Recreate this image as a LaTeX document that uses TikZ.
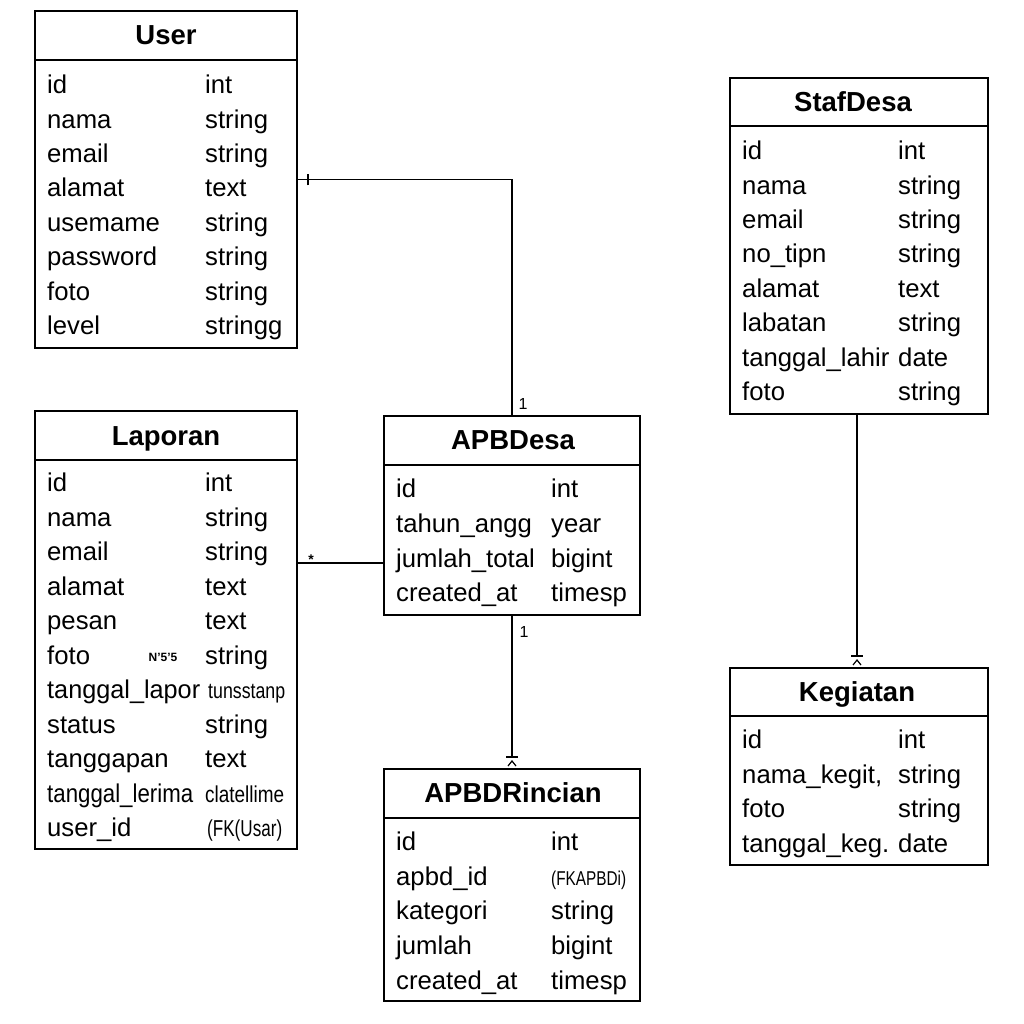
\documentclass[tikz,border=0pt]{standalone}
\usepackage{fontspec}
\setmainfont{Liberation Sans}
\usepackage{graphicx}
\begin{document}
\begin{tikzpicture}[x=1pt,y=-1pt,
  ent/.style={draw, line width=1.8pt, rectangle, inner sep=0pt, outer sep=0pt, anchor=north west},
  sep/.style={line width=1.5pt},
  ttl/.style={anchor=mid, inner sep=0pt, font=\fontsize{27.5}{32}\selectfont\bfseries},
  fld/.style={anchor=mid west, inner sep=0pt, font=\fontsize{25.7}{30}\selectfont},
  conn/.style={line width=1.8pt},
  lbl/.style={inner sep=0pt, font=\fontsize{16}{18}\selectfont}]
\useasboundingbox[fill=white] (0,0) rectangle (1024,1024);

% ---------- User ----------
\node[ent, minimum width=262, minimum height=337] (user) at (35,11) {};
\draw[sep] (user.west |- 0,60) -- (user.east |- 0,60);
\node[ttl] at (166,42) {User};
\foreach \n/\t [count=\i from 0] in {id/int, nama/string, email/string, alamat/text, usemame/string, password/string, foto/string, level/stringg} {
  \node[fld] at (47,{91+34.45*\i}) {\n};
  \node[fld] at (205,{91+34.45*\i}) {\t};
}

% ---------- Laporan ----------
\node[ent, minimum width=262, minimum height=438] (lap) at (35,411) {};
\draw[sep] (lap.west |- 0,460) -- (lap.east |- 0,460);
\node[ttl] at (166,443) {Laporan};
\foreach \n/\t [count=\i from 0] in {id/int, nama/string, email/string, alamat/text, pesan/text, foto/string,
  {\resizebox{153pt}{\height}{tanggal\_lapor}}/{\hspace{3pt}\resizebox{77pt}{\height}{\fontsize{22}{26}\selectfont tunsstanp}},
  status/string, tanggapan/text,
  {\resizebox{146pt}{\height}{tanggal\_lerima}}/{\resizebox{79pt}{\height}{\fontsize{23}{26}\selectfont clatellime}},
  user\_id/{\hspace{2pt}\resizebox{75pt}{\height}{\fontsize{23}{26}\selectfont (FK(Usar)}}} {
  \node[fld] at (47,{489+34.5*\i}) {\n};
  \node[fld] at (205,{489+34.5*\i}) {\t};
}
\node[inner sep=0pt, anchor=mid, font=\fontsize{12}{14}\selectfont\bfseries] (n55) at (163,659) {N'5'5};

% ---------- APBDesa ----------
\node[ent, minimum width=256, minimum height=199] (apbd) at (384,416) {};
\draw[sep] (apbd.west |- 0,465) -- (apbd.east |- 0,465);
\node[ttl] at (513,447) {APBDesa};
\foreach \n/\t [count=\i from 0] in {id/int, tahun\_angg/year, jumlah\_total/bigint, created\_at/timesp} {
  \node[fld] at (396,{495+34.7*\i}) {\n};
  \node[fld] at (551,{495+34.7*\i}) {\t};
}

% ---------- APBDRincian ----------
\node[ent, minimum width=256, minimum height=232] (rin) at (384,769) {};
\draw[sep] (rin.west |- 0,818) -- (rin.east |- 0,818);
\node[ttl] at (513,800) {APBDRincian};
\foreach \n/\t [count=\i from 0] in {id/int, apbd\_id/{\resizebox{75pt}{\height}{\fontsize{20}{24}\selectfont (FKAPBDi)}}, kategori/string, jumlah/bigint, created\_at/timesp} {
  \node[fld] at (396,{848+34.6*\i}) {\n};
  \node[fld] at (551,{848+34.6*\i}) {\t};
}

% ---------- StafDesa ----------
\node[ent, minimum width=258, minimum height=336] (staf) at (730,78) {};
\draw[sep] (staf.west |- 0,126) -- (staf.east |- 0,126);
\node[ttl] at (853,109) {StafDesa};
\foreach \n/\t [count=\i from 0] in {id/int, nama/string, email/string, no\_tipn/string, alamat/text, labatan/string, tanggal\_lahir/date, foto/string} {
  \node[fld] at (742,{157+34.4*\i}) {\n};
  \node[fld] at (898,{157+34.4*\i}) {\t};
}

% ---------- Kegiatan ----------
\node[ent, minimum width=258, minimum height=197] (keg) at (730,668) {};
\draw[sep] (keg.west |- 0,716) -- (keg.east |- 0,716);
\node[ttl] at (857,699) {Kegiatan};
\foreach \n/\t [count=\i from 0] in {id/int, {nama\_kegit,}/string, foto/string, tanggal\_keg./date} {
  \node[fld] at (742,{746+34.5*\i}) {\n};
  \node[fld] at (898,{746+34.5*\i}) {\t};
}

% ---------- Connectors ----------
% User -- APBDesa
\draw[conn] (user.east) -- (user.east -| apbd.north) -- (apbd.north);
\draw[line width=1.5pt] ([xshift=11pt,yshift=-6pt]user.east) -- ([xshift=11pt,yshift=5pt]user.east);
\node[lbl] at ([xshift=11pt,yshift=12pt]apbd.north) {1};

% Laporan -- APBDesa
\coordinate (lapc) at (lap.east |- 0,563);
\draw[conn] (lapc) -- (apbd.west |- lapc);
\node[lbl, font=\fontsize{14}{16}\selectfont\bfseries] at ([xshift=14pt,yshift=3pt]lapc) {*};

% APBDesa -- APBDRincian
\draw[conn] (apbd.south) -- ([yshift=12pt]rin.north);
\draw[line width=1.8pt] ([xshift=-6pt,yshift=12pt]rin.north) -- ([xshift=6pt,yshift=12pt]rin.north);
\draw[line width=1.2pt] ([xshift=-4pt,yshift=3pt]rin.north) -- ([yshift=8pt]rin.north) -- ([xshift=4pt,yshift=3pt]rin.north);
\node[lbl] at ([xshift=12pt,yshift=-17pt]apbd.south) {1};

% StafDesa -- Kegiatan
\coordinate (stc) at (857,414);
\coordinate (kgc) at (857,668);
\draw[conn] (stc) -- ([yshift=12pt]kgc);
\draw[line width=1.8pt] ([xshift=-6pt,yshift=12pt]kgc) -- ([xshift=6pt,yshift=12pt]kgc);
\draw[line width=1.2pt] ([xshift=-4pt,yshift=3pt]kgc) -- ([yshift=8pt]kgc) -- ([xshift=4pt,yshift=3pt]kgc);
\end{tikzpicture}
\end{document}
